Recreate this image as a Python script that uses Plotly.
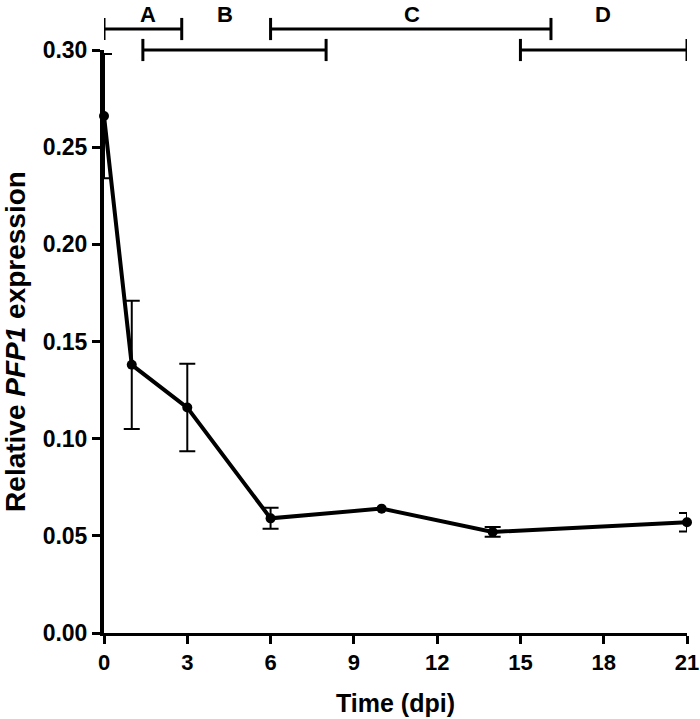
import plotly.graph_objects as go

# Data
time_dpi = [0, 1, 3, 6, 10, 14, 21]
expression = [0.266, 0.138, 0.116, 0.059, 0.064, 0.052, 0.057]
error = [0.032, 0.033, 0.0225, 0.0054, 0.0008, 0.0025, 0.0048]

x_ticks = [0, 3, 6, 9, 12, 15, 18, 21]
y_ticks = [0.00, 0.05, 0.10, 0.15, 0.20, 0.25, 0.30]
y_ticklabels = ["0.00", "0.05", "0.10", "0.15", "0.20", "0.25", "0.30"]

# Phase brackets (time ranges) and their rows (0 = upper, 1 = lower)
phase_labels = ["A", "B", "C", "D"]
phase_start = [0, 1.4, 6, 15]
phase_end = [2.8, 8, 16.1, 21]
phase_row = [0, 1, 0, 1]
phase_label_x = [1.58, 4.36, 11.1, 17.98]

FONT = "Liberation Sans, Arial, sans-serif"

# error bars smaller than the marker are hidden (as in the original software)
eb_x = [t for t, e in zip(time_dpi, error) if e > 0.001]
eb_y = [v for v, e in zip(expression, error) if e > 0.001]
eb_e = [e for e in error if e > 0.001]

fig = go.Figure()
fig.add_trace(go.Scatter(
    x=eb_x, y=eb_y, mode="markers",
    marker=dict(color="black", size=1, opacity=0),
    error_y=dict(type="data", array=eb_e, visible=True,
                 color="black", thickness=2, width=8),
    cliponaxis=False, showlegend=False, hoverinfo="skip",
))
fig.add_trace(go.Scatter(
    x=time_dpi, y=expression,
    mode="lines+markers",
    line=dict(color="black", width=4),
    marker=dict(color="black", size=10),
    cliponaxis=False,
    showlegend=False,
))

row_y = [1.036, 1.0]
cap = 0.019
shapes = []
for s, e, r in zip(phase_start, phase_end, phase_row):
    yy = row_y[r]
    line = dict(color="black", width=3)
    shapes.append(dict(type="line", xref="x", yref="paper", x0=s, x1=e, y0=yy, y1=yy, line=line))
    shapes.append(dict(type="line", xref="x", yref="paper", x0=s, x1=s, y0=yy - cap, y1=yy + cap, line=line))
    shapes.append(dict(type="line", xref="x", yref="paper", x0=e, x1=e, y0=yy - cap, y1=yy + cap, line=line))

annotations = []
for lab, lx in zip(phase_labels, phase_label_x):
    annotations.append(dict(text="<b>%s</b>" % lab, x=lx, xref="x", y=1.0855, yref="paper",
                            showarrow=False, xanchor="center", yanchor="top",
                            font=dict(family=FONT, size=22, color="black")))

fig.update_layout(
    width=700, height=719,
    margin=dict(l=104, r=13, t=50, b=86),
    paper_bgcolor="white", plot_bgcolor="white",
    font=dict(family=FONT, color="black"),
    shapes=shapes,
    annotations=annotations,
    xaxis=dict(
        range=[0, 21], tickvals=x_ticks, ticktext=[str(v) for v in x_ticks],
        showgrid=False, zeroline=False, automargin=False,
        showline=True, linecolor="black", linewidth=3,
        ticks="outside", ticklen=8, tickwidth=3, tickcolor="black",
        tickfont=dict(family=FONT, size=22, color="black", weight="bold"),
        title=dict(text="<b>Time (dpi)</b>", font=dict(family=FONT, size=25, color="black"), standoff=21),
    ),
    yaxis=dict(
        range=[0, 0.30], tickvals=y_ticks, ticktext=y_ticklabels,
        showgrid=False, zeroline=False, automargin=False,
        showline=True, linecolor="black", linewidth=4,
        ticks="outside", ticklen=8, tickwidth=3, tickcolor="black",
        tickfont=dict(family=FONT, size=23, color="black", weight="bold"),
        title=dict(text="<b>Relative <i>PFP1</i> expression</b>", font=dict(family=FONT, size=28, color="black"), standoff=19),
    ),
)

fig.write_html("out.html", config={"displayModeBar": False},
               post_script="document.body.style.margin='0';")
